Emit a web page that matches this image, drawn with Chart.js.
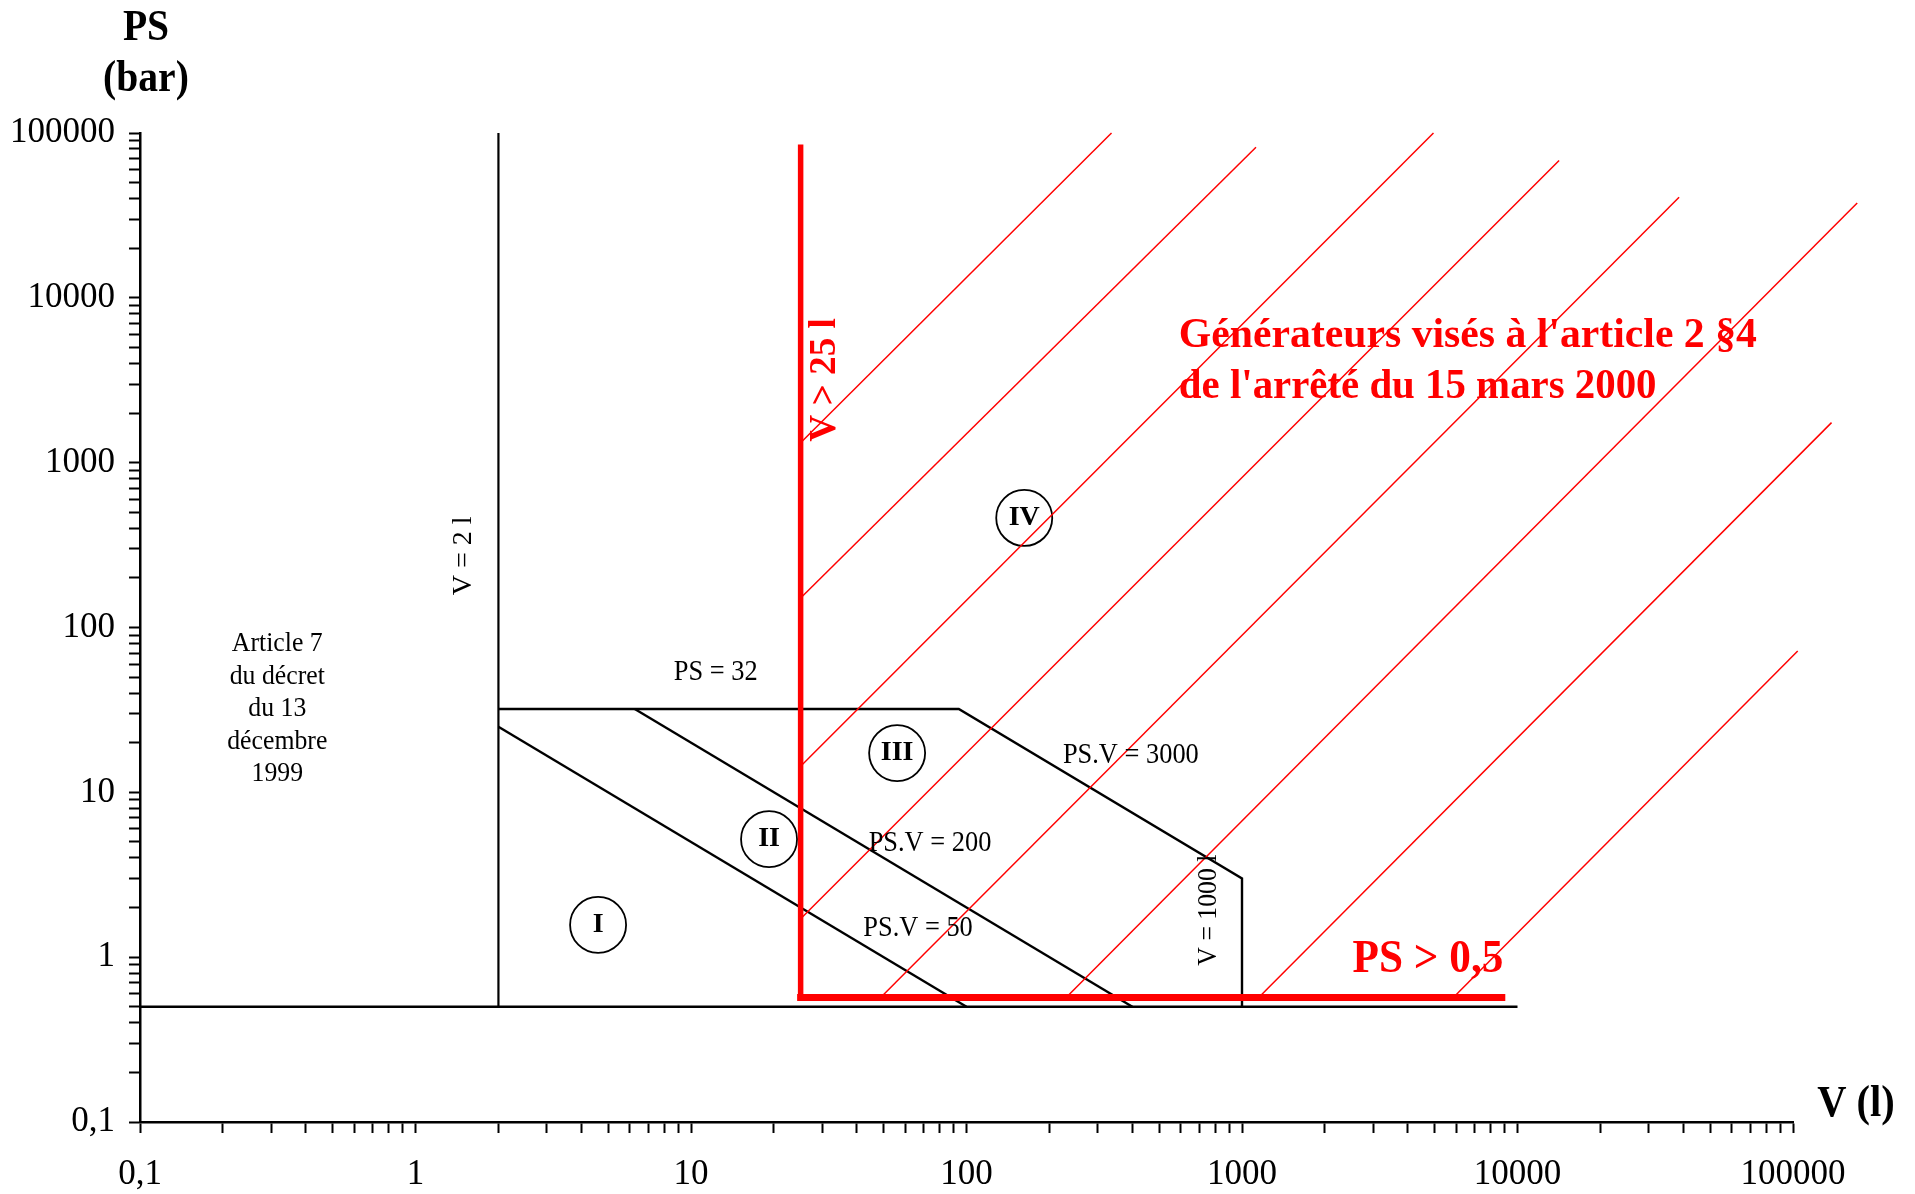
<!DOCTYPE html>
<html lang="fr">
<head>
<meta charset="utf-8">
<title>Générateurs de vapeur – PS (bar) en fonction de V (l)</title>
<script src="https://cdn.jsdelivr.net/npm/chart.js@4.4.1/dist/chart.umd.min.js"></script>
<style>
  html, body { margin: 0; padding: 0; background: #ffffff; }
  canvas { display: block; }
</style>
</head>
<body>
<canvas id="chart" width="1915" height="1194"></canvas>
<script>
// ---- Axis decades and their labels (French decimal comma) ----
const xMajorTicks = [0.1, 1, 10, 100, 1000, 10000, 100000];
const xTickLabels = ['0,1', '1', '10', '100', '1000', '10000', '100000'];
const yMajorTicks = [0.1, 1, 10, 100, 1000, 10000, 100000];
const yTickLabels = ['0,1', '1', '10', '100', '1000', '10000', '100000'];

// ---- Regulatory boundaries (V in litres, PS in bar) ----
const floorV  = [0.1, 10000];            const floorPS  = [0.5, 0.5];          // PS = 0,5
const minVolV = [2, 2];                  const minVolPS = [0.5, 100000];       // V = 2 l
const cat3V   = [2, 93.75, 1000, 1000];  const cat3PS   = [32, 32, 3, 0.5];    // PS = 32, PS.V = 3000, V = 1000 l
const cat2V   = [6.25, 400];             const cat2PS   = [32, 0.5];           // PS.V = 200
const cat1V   = [2, 100];                const cat1PS   = [25, 0.5];           // PS.V = 50

// ---- Field of the order of 15 March 2000 ----
const scopeVertV = [25, 25];             const scopeVertPS = [82000, 0.57];    // V > 25 l
const scopeHorzV = [25, 8770];           const scopeHorzPS = [0.57, 0.57];     // PS > 0,5

// Hatching strokes of that field (start point, end point)
const hatchStartV  = [25, 25, 25, 25, 48.8, 230, 1150, 5850];
const hatchStartPS = [1320, 151, 14.4, 1.71, 0.57, 0.57, 0.57, 0.57];
const hatchEndV    = [336, 1124, 4955, 14160, 38600, 171000, 138000, 104000];
const hatchEndPS   = [100000, 82000, 100000, 68100, 40800, 37600, 1750, 72.1];

// ---- Category markers ----
const zoneNames = ['I', 'II', 'III', 'IV'];
const zoneV     = [4.6, 19.2, 56, 162];
const zonePS    = [1.57, 5.2, 17.3, 462];

// ---- Helpers ----
const BLACK = '#000000';
const RED = '#ff0000';
const SERIF = '"Liberation Serif", "Times New Roman", serif';

function points(vs, pss) {
  return vs.map((v, i) => ({ x: v, y: pss[i] }));
}

function lineSet(label, vs, pss, color, width, order, extra) {
  return Object.assign({
    label: label,
    data: points(vs, pss),
    showLine: true,
    borderColor: color,
    borderWidth: width,
    pointRadius: 0,
    pointHoverRadius: 0,
    fill: false,
    tension: 0,
    order: order
  }, extra || {});
}

// 1..9 x 10^n ticks over the full range
function decadeTicks(min, max) {
  const out = [];
  for (let e = Math.round(Math.log10(min)); e < Math.round(Math.log10(max)); e++) {
    for (let m = 1; m < 10; m++) out.push(Number((m * Math.pow(10, e)).toPrecision(6)));
  }
  out.push(max);
  return out;
}

// ---- Text placed on the plot (anchored in data coordinates) ----
const plotNotes = [
  { text: 'PS = 32',      v: 12.3, ps: 53.8, font: '30px ' + SERIF, sx: 0.88 },
  { text: 'PS.V = 3000',  v: 395,  ps: 16.9, font: '30px ' + SERIF, sx: 0.88 },
  { text: 'PS.V = 200',   v: 73.7, ps: 4.93, font: '30px ' + SERIF, sx: 0.88 },
  { text: 'PS.V = 50',    v: 66.7, ps: 1.50, font: '30px ' + SERIF, sx: 0.88 },
  { text: 'V = 2 l',      v: 1.5,  ps: 272,  font: '28px ' + SERIF, sx: 1.0, rot: -Math.PI / 2 },
  { text: 'V = 1000 l',   v: 759,  ps: 1.93, font: '28px ' + SERIF, sx: 0.92, rot: -Math.PI / 2 },
  { text: 'V > 25 l',     v: 30.6, ps: 3180, font: 'bold 38px ' + SERIF, sx: 0.98, rot: -Math.PI / 2, color: RED },
  { text: 'PS > 0,5',     v: 4730, ps: 0.962, font: 'bold 46px ' + SERIF, sx: 0.94, color: RED },
  { text: 'Générateurs visés à l\'article 2 §4', v: 590, ps: 5875, font: 'bold 43px ' + SERIF, sx: 0.97, color: RED, align: 'left' },
  { text: 'de l\'arrêté du 15 mars 2000',        v: 590, ps: 2884, font: 'bold 43px ' + SERIF, sx: 0.95, color: RED, align: 'left' }
];

const articleLines = ['Article 7', 'du décret', 'du 13', 'décembre', '1999'];
const articleAnchor = { v: 0.315, ps: 32, lineHeight: 32.5, font: '28px ' + SERIF, sx: 0.92 };

function putText(ctx, text, px, py, o) {
  ctx.save();
  ctx.font = o.font;
  ctx.fillStyle = o.color || BLACK;
  ctx.textAlign = o.align || 'center';
  ctx.textBaseline = 'middle';
  ctx.translate(px, py);
  if (o.rot) ctx.rotate(o.rot);
  if (o.sx && o.sx !== 1) ctx.scale(o.sx, 1);
  ctx.fillText(text, 0, 0);
  ctx.restore();
}

const annotations = {
  id: 'annotations',
  afterDatasetsDraw(chart) {
    const { ctx, chartArea, scales } = chart;
    const xs = scales.x, ys = scales.y;

    plotNotes.forEach(n => {
      putText(ctx, n.text, xs.getPixelForValue(n.v), ys.getPixelForValue(n.ps), n);
    });

    const ax = xs.getPixelForValue(articleAnchor.v);
    const ay = ys.getPixelForValue(articleAnchor.ps);
    const mid = (articleLines.length - 1) / 2;
    articleLines.forEach((t, i) => {
      putText(ctx, t, ax, ay + (i - mid) * articleAnchor.lineHeight, articleAnchor);
    });

    // Roman numerals inside the category circles
    zoneNames.forEach((name, i) => {
      putText(ctx, name, xs.getPixelForValue(zoneV[i]), ys.getPixelForValue(zonePS[i]),
        { font: 'bold 28px ' + SERIF, sx: 1 });
    });

    // Axis titles
    const titleFont = { font: 'bold 45px ' + SERIF, sx: 0.88 };
    putText(ctx, 'PS', chartArea.left + 6, chartArea.top - 105, titleFont);
    putText(ctx, '(bar)', chartArea.left + 6, chartArea.top - 54, titleFont);
    putText(ctx, 'V (l)', chartArea.right + 63, chartArea.bottom - 18, { font: 'bold 45px ' + SERIF, sx: 0.9 });
  }
};

// ---- Datasets ----
const datasets = [
  lineSet('V > 25 l', scopeVertV, scopeVertPS, RED, 5.5, 0, { borderCapStyle: 'square' }),
  lineSet('PS > 0,5', scopeHorzV, scopeHorzPS, RED, 7, 0, { borderCapStyle: 'square' })
];

hatchStartV.forEach((v, i) => {
  datasets.push(lineSet('Générateurs visés', [v, hatchEndV[i]], [hatchStartPS[i], hatchEndPS[i]], RED, 1.5, 1, { clip: false }));
});

datasets.push(
  lineSet('PS = 0,5', floorV, floorPS, BLACK, 2.4, 3),
  lineSet('V = 2 l', minVolV, minVolPS, BLACK, 2.2, 3),
  lineSet('PS = 32 / PS.V = 3000 / V = 1000 l', cat3V, cat3PS, BLACK, 2.4, 3),
  lineSet('PS.V = 200', cat2V, cat2PS, BLACK, 2.4, 3),
  lineSet('PS.V = 50', cat1V, cat1PS, BLACK, 2.4, 3),
  {
    label: 'Catégories',
    data: points(zoneV, zonePS),
    showLine: false,
    pointStyle: 'circle',
    pointRadius: 28,
    pointHoverRadius: 28,
    pointBorderWidth: 1.8,
    pointBorderColor: BLACK,
    pointBackgroundColor: 'rgba(0,0,0,0)',
    order: 2
  }
);

function axisOptions(majors, labels, isX) {
  return {
    type: 'logarithmic',
    position: isX ? 'bottom' : 'left',
    min: majors[0],
    max: majors[majors.length - 1],
    afterBuildTicks(scale) {
      scale.ticks = decadeTicks(majors[0], majors[majors.length - 1]).map(v => ({ value: v }));
    },
    afterFit(scale) {
      if (isX) scale.height = 72; else scale.width = 140;
    },
    border: { display: true, color: BLACK, width: 2.5 },
    grid: {
      display: true,
      drawOnChartArea: false,
      drawTicks: true,
      tickLength: 11,
      tickColor: BLACK,
      tickWidth: 2
    },
    ticks: {
      autoSkip: false,
      maxRotation: 0,
      minRotation: 0,
      padding: isX ? 21 : 14,
      color: BLACK,
      font: { family: SERIF, size: 35 },
      callback(value) {
        const i = majors.indexOf(value);
        return i >= 0 ? labels[i] : '';
      }
    }
  };
}

Chart.defaults.font.family = SERIF;

new Chart(document.getElementById('chart'), {
  type: 'scatter',
  data: { datasets: datasets },
  options: {
    responsive: false,
    devicePixelRatio: 1,
    animation: false,
    events: [],
    layout: { padding: { top: 133, right: 122, bottom: 0, left: 0 } },
    scales: {
      x: axisOptions(xMajorTicks, xTickLabels, true),
      y: axisOptions(yMajorTicks, yTickLabels, false)
    },
    plugins: {
      legend: { display: false },
      tooltip: { enabled: false }
    }
  },
  plugins: [annotations]
});
</script>
</body>
</html>
